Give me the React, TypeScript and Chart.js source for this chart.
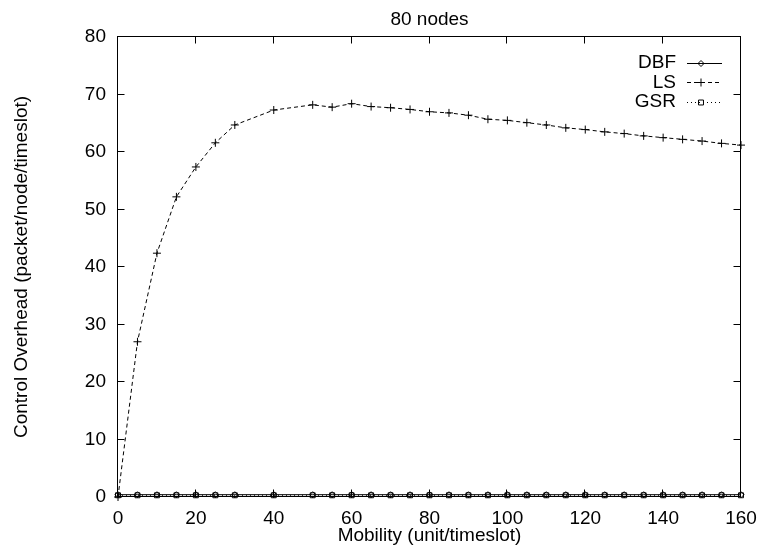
import React, { useEffect, useRef } from 'react';
import { Chart, registerables } from 'chart.js';

Chart.register(...registerables);

const FONT_FAMILY = '"Liberation Sans", Arial, Helvetica, sans-serif';
const FONT_SIZE = 19;

const chartTitle = '80 nodes';
const xAxisLabel = 'Mobility (unit/timeslot)';
const yAxisLabel = 'Control Overhead (packet/node/timeslot)';

const seriesNames = ['DBF', 'LS', 'GSR'];

const mobility = [
  0, 5, 10, 15, 20, 25, 30, 40, 50, 55, 60, 65, 70, 75, 80, 85, 90, 95, 100,
  105, 110, 115, 120, 125, 130, 135, 140, 145, 150, 155, 160,
];

const dbfOverhead = [
  0.4, 0.4, 0.4, 0.4, 0.4, 0.4, 0.4, 0.4, 0.4, 0.4, 0.4, 0.4, 0.4, 0.4, 0.4, 0.4,
  0.4, 0.4, 0.4, 0.4, 0.4, 0.4, 0.4, 0.4, 0.4, 0.4, 0.4, 0.4, 0.4, 0.4, 0.4,
];

const lsOverhead = [
  0, 27.0, 42.4, 52.2, 57.4, 61.6, 64.7, 67.3, 68.2, 67.8, 68.4, 67.9, 67.7,
  67.4, 67.0, 66.8, 66.4, 65.7, 65.5, 65.1, 64.7, 64.2, 63.9, 63.5, 63.2, 62.8,
  62.5, 62.2, 61.9, 61.5, 61.2,
];

const gsrOverhead = [
  0.3, 0.3, 0.3, 0.3, 0.3, 0.3, 0.3, 0.3, 0.3, 0.3, 0.3, 0.3, 0.3, 0.3, 0.3, 0.3,
  0.3, 0.3, 0.3, 0.3, 0.3, 0.3, 0.3, 0.3, 0.3, 0.3, 0.3, 0.3, 0.3, 0.3, 0.3,
];

const xMin = 0;
const xMax = 160;
const xStep = 20;
const yMin = 0;
const yMax = 80;
const yStep = 10;

const toPoints = (ys: number[]) => mobility.map((x, i) => ({ x, y: ys[i] }));

function drawMarker(ctx: CanvasRenderingContext2D, style: string, x: number, y: number, r: number) {
  ctx.beginPath();
  if (style === 'rectRot') {
    ctx.moveTo(x, y - r);
    ctx.lineTo(x + r, y);
    ctx.lineTo(x, y + r);
    ctx.lineTo(x - r, y);
    ctx.closePath();
  } else if (style === 'cross') {
    ctx.moveTo(x - r, y);
    ctx.lineTo(x + r, y);
    ctx.moveTo(x, y - r);
    ctx.lineTo(x, y + r);
  } else if (style === 'rect') {
    const s = r * Math.SQRT1_2;
    ctx.rect(x - s, y - s, 2 * s, 2 * s);
  }
  ctx.stroke();
}

const framePlugin = {
  id: 'gnuplotFrame',
  afterDatasetsDraw(chart: any) {
    const { ctx, chartArea: a, scales } = chart;
    const L = Math.round(a.left) - 0.5;
    const R = Math.round(a.right) - 0.5;
    const T = Math.round(a.top) - 0.5;
    const B = Math.round(a.bottom) - 0.5;
    const tick = 7;
    ctx.save();
    ctx.strokeStyle = '#000';
    ctx.lineWidth = 1;
    ctx.setLineDash([]);
    ctx.strokeRect(L, T, R - L, B - T);
    ctx.beginPath();
    scales.y.ticks.forEach((t: any) => {
      const py = Math.round(scales.y.getPixelForValue(t.value)) - 0.5;
      ctx.moveTo(L, py);
      ctx.lineTo(L + tick, py);
      ctx.moveTo(R, py);
      ctx.lineTo(R - tick, py);
    });
    scales.x.ticks.forEach((t: any) => {
      const px = Math.round(scales.x.getPixelForValue(t.value)) - 0.5;
      ctx.moveTo(px, B);
      ctx.lineTo(px, B - tick);
      ctx.moveTo(px, T);
      ctx.lineTo(px, T + tick);
    });
    ctx.stroke();

    // key (legend), gnuplot style: text right-aligned, then sample line with marker
    ctx.font = `${FONT_SIZE}px ${FONT_FAMILY}`;
    ctx.fillStyle = '#000';
    ctx.textAlign = 'right';
    ctx.textBaseline = 'middle';
    chart.data.datasets.forEach((ds: any, i: number) => {
      const y = a.top + 26 + i * 19.3;
      ctx.fillText(ds.label, a.right - 65, y);
      const ly = Math.round(y) + 0.5;
      ctx.setLineDash(ds.borderDash || []);
      ctx.beginPath();
      ctx.moveTo(a.right - 54, ly);
      ctx.lineTo(a.right - 19, ly);
      ctx.stroke();
      ctx.setLineDash([]);
      drawMarker(ctx, ds.pointStyle, a.right - 40, ly, ds.pointRadius);
    });
    ctx.restore();
  },
};

export default function App() {
  const canvasRef = useRef<HTMLCanvasElement | null>(null);

  useEffect(() => {
    document.body.style.margin = '0';
    const canvas = canvasRef.current;
    if (!canvas) return;
    Chart.defaults.font.family = FONT_FAMILY;
    Chart.defaults.font.size = FONT_SIZE;
    Chart.defaults.color = '#000';

    const common = {
      borderColor: '#000',
      borderWidth: 1,
      pointBorderColor: '#000',
      pointBackgroundColor: 'rgba(0,0,0,0)',
      pointBorderWidth: 1,
      tension: 0,
      fill: false,
      clip: false as const,
    };

    const chart = new Chart(canvas, {
      type: 'line',
      data: {
        datasets: [
          {
            ...common,
            label: seriesNames[0],
            data: toPoints(dbfOverhead),
            pointStyle: 'rectRot',
            pointRadius: 3,
          },
          {
            ...common,
            label: seriesNames[1],
            data: toPoints(lsOverhead),
            borderDash: [4, 3],
            pointStyle: 'cross',
            pointRadius: 4,
          },
          {
            ...common,
            label: seriesNames[2],
            data: toPoints(gsrOverhead),
            borderDash: [1, 3],
            pointStyle: 'rect',
            pointRadius: 3.5,
          },
        ],
      },
      options: {
        responsive: false,
        animation: false,
        devicePixelRatio: 1,
        layout: { padding: { left: 0, right: 19, top: 0, bottom: 0 } },
        plugins: {
          legend: { display: false },
          tooltip: { enabled: false },
          title: {
            display: true,
            text: chartTitle,
            color: '#000',
            fullSize: false,
            font: { size: FONT_SIZE, weight: 'normal', family: FONT_FAMILY },
            padding: { top: 8.6, bottom: 5.6 },
          },
        },
        scales: {
          x: {
            type: 'linear',
            min: xMin,
            max: xMax,
            grid: { display: false, drawTicks: false },
            border: { display: false },
            ticks: { stepSize: xStep, padding: 10, color: '#000', maxRotation: 0 },
            title: {
              display: true,
              text: xAxisLabel,
              color: '#000',
              font: { size: FONT_SIZE },
              padding: { top: 0, bottom: 5 },
            },
            afterFit: (scale: any) => {
              scale.height = 55;
              scale.paddingLeft = 0;
              scale.paddingRight = 0;
            },
          },
          y: {
            type: 'linear',
            min: yMin,
            max: yMax,
            grid: { display: false, drawTicks: false },
            border: { display: false },
            ticks: { stepSize: yStep, padding: 12, color: '#000' },
            title: {
              display: true,
              text: yAxisLabel,
              color: '#000',
              font: { size: FONT_SIZE },
              padding: { top: 10, bottom: 0 },
            },
            afterFit: (scale: any) => {
              scale.width = 118;
              scale.paddingTop = 0;
              scale.paddingBottom = 0;
            },
          },
        },
      },
      plugins: [framePlugin],
    } as any);

    return () => chart.destroy();
  }, []);

  return (
    <div style={{ width: 760, height: 552 }}>
      <canvas ref={canvasRef} width={760} height={552} style={{ display: 'block' }} />
    </div>
  );
}
